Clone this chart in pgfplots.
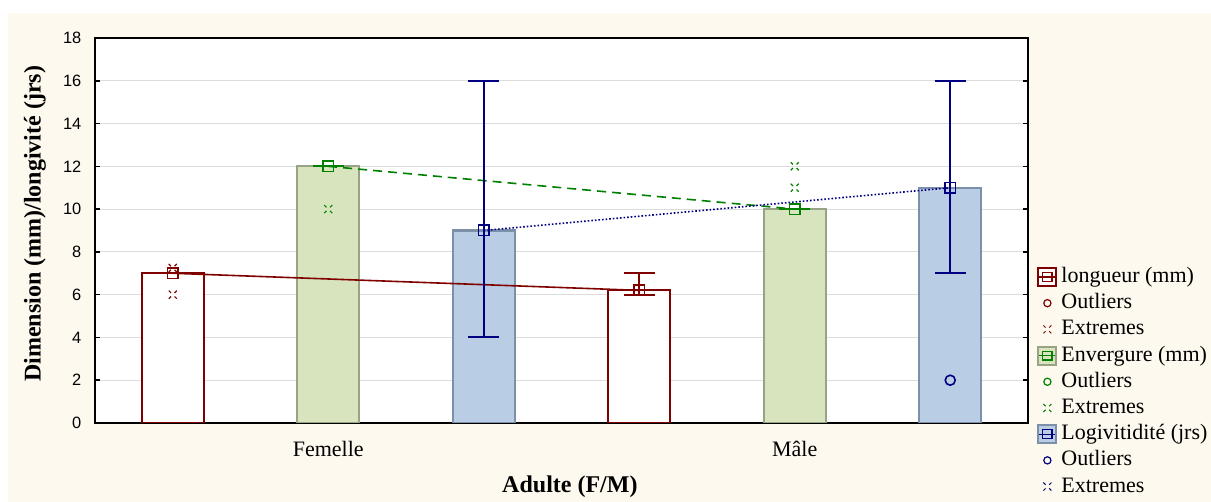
\documentclass[border=0pt]{standalone}
\usepackage{fontspec}
\setmainfont{Liberation Serif}
\newfontfamily\arialfont{Liberation Sans}
\usepackage{pgfplots}
\pgfplotsset{compat=1.18}

\definecolor{cream}{HTML}{FDF9EF}
\definecolor{dred}{HTML}{800000}
\definecolor{envfill}{HTML}{D7E4BD}
\definecolor{envedge}{HTML}{98A386}
\definecolor{envline}{HTML}{008000}
\definecolor{logfill}{HTML}{B9CDE5}
\definecolor{logedge}{HTML}{7D90AA}
\definecolor{logline}{HTML}{000080}
\definecolor{gridgray}{HTML}{DCDCDC}

% extreme values: only the four ends of an x
\pgfdeclareplotmark{xends}{%
  \pgfpathmoveto{\pgfqpoint{-\pgfplotmarksize}{-\pgfplotmarksize}}%
  \pgfpathlineto{\pgfqpoint{-0.45\pgfplotmarksize}{-0.45\pgfplotmarksize}}%
  \pgfpathmoveto{\pgfqpoint{\pgfplotmarksize}{-\pgfplotmarksize}}%
  \pgfpathlineto{\pgfqpoint{0.45\pgfplotmarksize}{-0.45\pgfplotmarksize}}%
  \pgfpathmoveto{\pgfqpoint{-\pgfplotmarksize}{\pgfplotmarksize}}%
  \pgfpathlineto{\pgfqpoint{-0.45\pgfplotmarksize}{0.45\pgfplotmarksize}}%
  \pgfpathmoveto{\pgfqpoint{\pgfplotmarksize}{\pgfplotmarksize}}%
  \pgfpathlineto{\pgfqpoint{0.45\pgfplotmarksize}{0.45\pgfplotmarksize}}%
  \pgfusepathqstroke}

\pgfplotsset{
  boxbar/.style={ybar, bar width=31pt, bar shift=0pt, line width=1.1pt, forget plot},
  meanline/.style={line width=0.8pt, mark=square, mark size=2.6pt,
    mark options={solid, line width=0.8pt}, forget plot,
    error bars/y dir=both, error bars/y explicit,
    error bars/error mark=|,
    error bars/error bar style={solid, line width=1pt},
    error bars/error mark options={solid, line width=1pt, mark size=7.75pt}},
}

\begin{document}
\begin{tikzpicture}
\useasboundingbox (0,0) rectangle (605.5pt,251pt);
\fill[white] (0,0) rectangle (605.5pt,251pt);
\fill[cream] (4pt,0) rectangle (605.5pt,244.5pt);
\begin{axis}[
  at={(47.5pt,39.5pt)}, anchor=south west,
  scale only axis, width=466.5pt, height=192.5pt,
  xmin=-0.5, xmax=1.5, ymin=0, ymax=18,
  axis background/.style={fill=white},
  axis line style={line width=1pt},
  xtick={0,1}, xticklabels={Femelle, Mâle},
  xtick pos=bottom, xtick align=inside,
  ytick={0,2,...,18}, ytick align=inside, ytick pos=both,
  major tick length=2.5pt,
  tick style={line width=0.8pt, black},
  ymajorgrids, major grid style={draw=gridgray, line width=0.6pt},
  xticklabel style={font=\fontsize{11}{13}\selectfont, yshift=-5.5pt},
  yticklabel style={font=\arialfont\fontsize{8.2}{10}\selectfont,
    /pgf/number format/assume math mode=true, xshift=-3.3pt},
  xlabel={Adulte (F/M)},
  xlabel style={font=\bfseries\fontsize{12}{14}\selectfont,
    at={(axis description cs:0.509,-0.166)}, anchor=center},
  ylabel={Dimension (mm)/longivité (jrs)},
  ylabel style={font=\bfseries\fontsize{12}{14}\selectfont,
    at={(axis description cs:-0.0643,0.517)}, anchor=center},
  legend style={draw=none, fill=none, at={(1.0032,0.418)}, anchor=north west,
    font=\fontsize{11}{13}\selectfont, row sep=2.6pt, column sep=2pt,
    nodes={inner sep=0pt, text height=8pt, text depth=2.5pt}},
  legend cell align=left,
]
% bars: means of each variable
\addplot[boxbar, fill=white, draw=dred] coordinates {(-0.3333,7) (0.6667,6.2)};
\addplot[boxbar, fill=envfill, draw=envedge] coordinates {(0,12) (1,10)};
\addplot[boxbar, fill=logfill, draw=logedge] coordinates {(0.3333,9) (1.3333,11)};

% means joined across groups, with whiskers
\addplot[dred, meanline] coordinates {
  (-0.3333,7) += (0,0) -= (0,0)
  (0.6667,6.2) += (0,0.8) -= (0,0.2)};
\addplot[envline, dash pattern=on 4.5pt off 3pt, meanline] coordinates {
  (0,12) += (0,0) -= (0,0)
  (1,10) += (0,0) -= (0,0)};
\addplot[logline, densely dotted, meanline] coordinates {
  (0.3333,9) += (0,7) -= (0,5)
  (1.3333,11) += (0,5) -= (0,4)};

% extremes
\addplot[only marks, mark=xends, mark size=2pt, dred, line width=0.6pt, forget plot]
  coordinates {(-0.3333,7.25) (-0.3333,6)};
\addplot[only marks, mark=xends, mark size=2pt, envline, line width=0.6pt, forget plot]
  coordinates {(0,10) (1,12) (1,11)};
% outliers
\addplot[only marks, mark=o, mark size=2.5pt, logline, line width=0.8pt, forget plot]
  coordinates {(1.3333,2)};

% legend
\addlegendimage{legend image code/.code={
  \draw[draw=dred, fill=white, line width=1pt] (0pt,-4.5pt) rectangle (9pt,4.5pt);
  \draw[dred, line width=0.6pt] (0.5pt,0pt) -- (8.5pt,0pt);
  \draw[dred, line width=0.6pt] (2.2pt,-2.2pt) rectangle (6.8pt,2.2pt);}}
\addlegendentry{longueur (mm)}
\addlegendimage{legend image code/.code={
  \path[draw=none, fill=none] (0pt,-4.5pt) rectangle (9pt,4.5pt);
  \draw[dred, line width=0.6pt] (4.5pt,0pt) circle (1.8pt);}}
\addlegendentry{Outliers}
\addlegendimage{legend image code/.code={
  \path[draw=none, fill=none] (0pt,-4.5pt) rectangle (9pt,4.5pt);
  \draw[dred, line width=0.5pt] plot[only marks, mark=xends, mark size=2pt] coordinates {(4.5pt,0pt)};}}
\addlegendentry{Extremes}
\addlegendimage{legend image code/.code={
  \draw[draw=envedge, fill=envfill, line width=1pt] (0pt,-4.5pt) rectangle (9pt,4.5pt);
  \draw[envline, line width=0.6pt] (0.5pt,0pt) -- (8.5pt,0pt);
  \draw[envline, line width=0.6pt] (2.2pt,-2.2pt) rectangle (6.8pt,2.2pt);}}
\addlegendentry{Envergure (mm)}
\addlegendimage{legend image code/.code={
  \path[draw=none, fill=none] (0pt,-4.5pt) rectangle (9pt,4.5pt);
  \draw[envline, line width=0.6pt] (4.5pt,0pt) circle (1.8pt);}}
\addlegendentry{Outliers}
\addlegendimage{legend image code/.code={
  \path[draw=none, fill=none] (0pt,-4.5pt) rectangle (9pt,4.5pt);
  \draw[envline, line width=0.5pt] plot[only marks, mark=xends, mark size=2pt] coordinates {(4.5pt,0pt)};}}
\addlegendentry{Extremes}
\addlegendimage{legend image code/.code={
  \draw[draw=logedge, fill=logfill, line width=1pt] (0pt,-4.5pt) rectangle (9pt,4.5pt);
  \draw[logline, line width=0.6pt] (0.5pt,0pt) -- (8.5pt,0pt);
  \draw[logline, line width=0.6pt] (2.2pt,-2.2pt) rectangle (6.8pt,2.2pt);}}
\addlegendentry{Logivitidité (jrs)}
\addlegendimage{legend image code/.code={
  \path[draw=none, fill=none] (0pt,-4.5pt) rectangle (9pt,4.5pt);
  \draw[logline, line width=0.6pt] (4.5pt,0pt) circle (1.8pt);}}
\addlegendentry{Outliers}
\addlegendimage{legend image code/.code={
  \path[draw=none, fill=none] (0pt,-4.5pt) rectangle (9pt,4.5pt);
  \draw[logline, line width=0.5pt] plot[only marks, mark=xends, mark size=2pt] coordinates {(4.5pt,0pt)};}}
\addlegendentry{Extremes}
\end{axis}
\end{tikzpicture}
\end{document}
